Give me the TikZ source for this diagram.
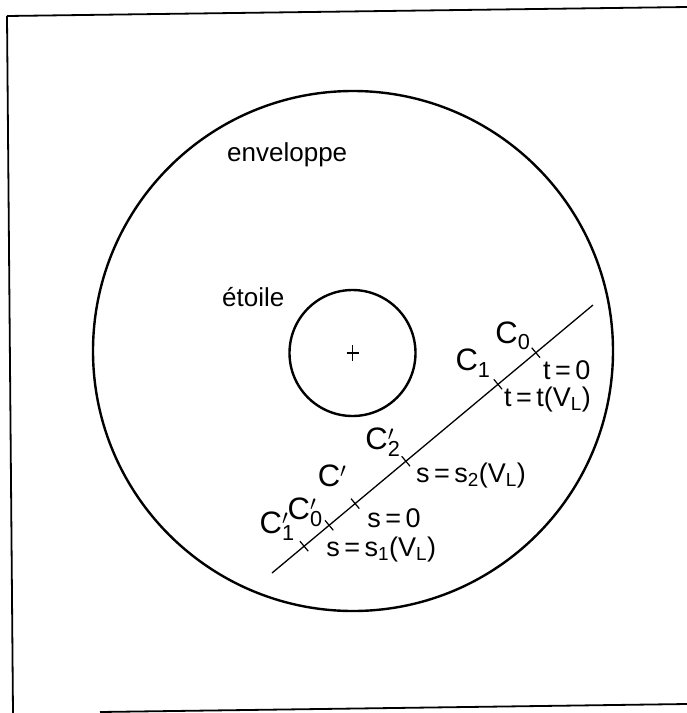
\documentclass[tikz,border=0pt]{standalone}
\usepackage{fontspec}
\setmainfont{Liberation Sans}
\usetikzlibrary{calc}
\newcommand{\cpr}[1]{C\rlap{$^{\prime}$}\textsubscript{#1}}

\begin{document}
\begin{tikzpicture}[x=1pt,y=-1pt,
  frame/.style={line width=1.8pt},
  shell/.style={circle,draw,line width=2.4pt,inner sep=0pt},
  ray/.style={line width=1.3pt},
  tick/.style={draw,sloped,line width=1.2pt,inner sep=0pt,minimum width=0pt,minimum height=13pt},
  lbl/.style={inner sep=0pt,anchor=west,font=\fontsize{27}{30}\selectfont},
  clbl/.style={inner sep=0pt,font=\fontsize{31}{34}\selectfont},
  word/.style={inner sep=0pt,anchor=west,font=\fontsize{26}{30}\selectfont}
]
\useasboundingbox (0,0) rectangle (687,713);

% cadre
\draw[frame] (7,16) -- (687,7);
\draw[frame] (7,16) -- (13,713);
\draw[frame] (100,712) -- (687,704);

% enveloppe et etoile
\node[shell,minimum size=520pt] (env) at (353,351) {};
\node[shell,minimum size=126pt] (star) at (352.5,353) {};
\draw[line width=1.3pt] ($(star.center)+(-6,0)$) -- ($(star.center)+(6,0)$);
\draw[line width=1.3pt] ($(star.center)+(0,-8)$) -- ($(star.center)+(0,8)$);

\node[word] (envlbl) at (227,155) {enveloppe};
\node[word] (starlbl) at (222,297) {étoile};

% ligne de visee
\coordinate (rayA) at (272,573);
\coordinate (rayB) at (593,305);
\draw[ray] (rayA) -- (rayB)
  node[tick,pos=0.100] (s1) {}
  node[tick,pos=0.178] (c0t) {}
  node[tick,pos=0.259] (s0) {}
  node[tick,pos=0.417] (s2) {}
  node[tick,pos=0.704] (t1) {}
  node[tick,pos=0.822] (t0) {};

\node[clbl] (c0) at ($(t0)+(-23,-17)$) {C\textsubscript{0}};
\node[lbl] (t0lbl) at ($(t0)+(7,17)$) {t\,=\,0};
\node[clbl] (c1) at ($(t1)+(-25,-21)$) {C\textsubscript{1}};
\node[lbl] (t1lbl) at ($(t1)+(6,15)$) {t\,=\,t(V\textsubscript{L})};
\node[clbl] (c2p) at ($(s2)+(-23,-19)$) {\cpr{2}};
\node[lbl] (s2lbl) at ($(s2)+(10,14)$) {s\,=\,s\textsubscript{2}(V\textsubscript{L})};
\node[clbl] (cp) at ($(s0)+(-23,-28)$) {C$^{\prime}$};
\node[lbl] (s0lbl) at ($(s0)+(12,15)$) {s\,=\,0};
\node[clbl] (c0p) at ($(c0t)+(-24,-13)$) {\cpr{0}};
\node[clbl] (c1p) at ($(s1)+(-27,-20)$) {\cpr{1}};
\node[lbl] (s1lbl) at ($(s1)+(22,3)$) {s\,=\,s\textsubscript{1}(V\textsubscript{L})};
\end{tikzpicture}
\end{document}
